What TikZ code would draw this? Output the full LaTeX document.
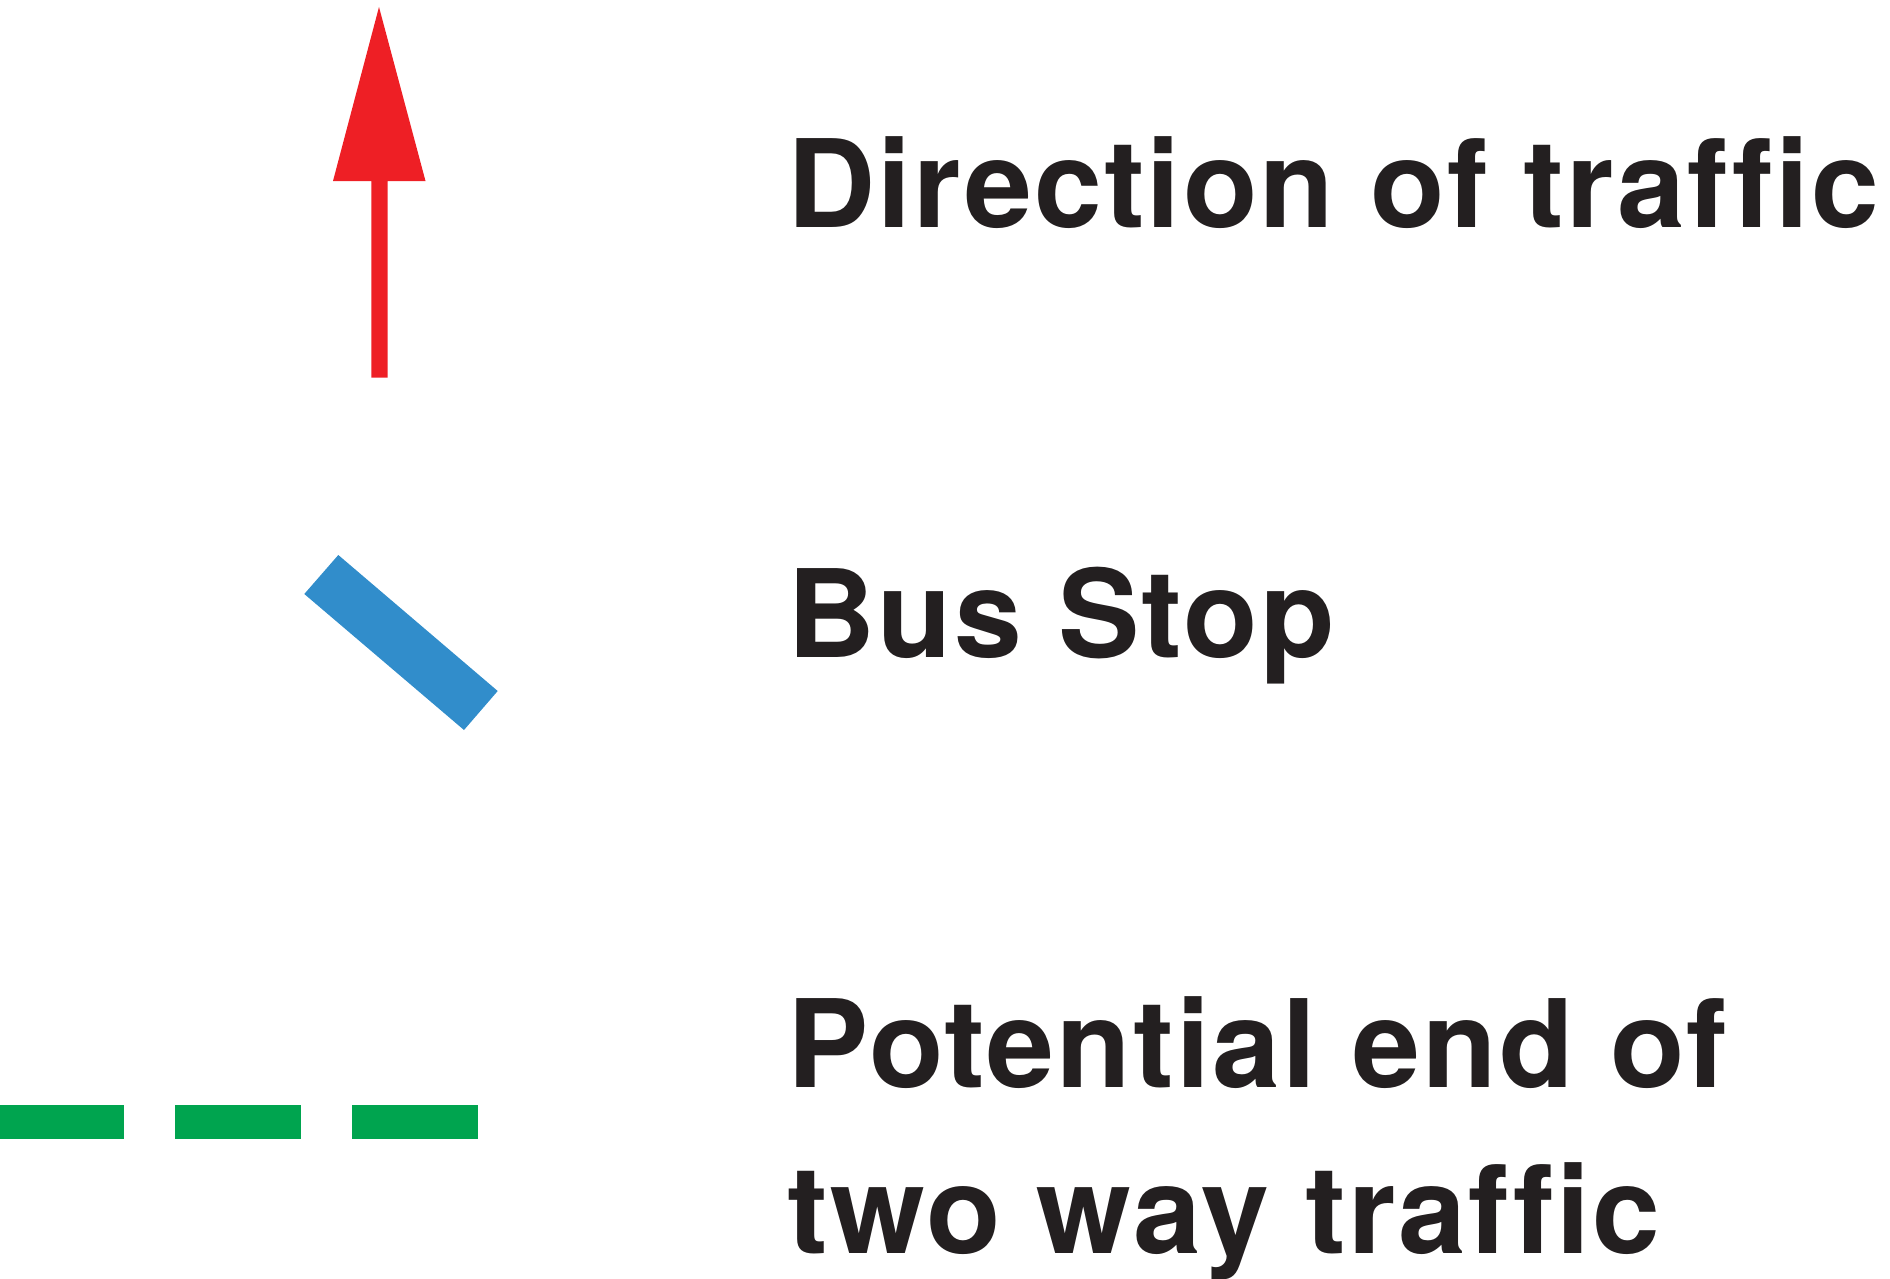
\documentclass[tikz,border=0pt]{standalone}
\usepackage{fontspec}
\setmainfont[Ligatures=NoCommon]{TeX Gyre Heros}
\newfontfamily\legendfont[Ligatures=NoCommon,LetterSpace=1.8]{TeX Gyre Heros}
\definecolor{arrowred}{HTML}{EE1F25}
\definecolor{stopblue}{HTML}{318DCB}
\definecolor{endgreen}{HTML}{00A44F}
\definecolor{labeltext}{HTML}{231F20}
\begin{document}
\begin{tikzpicture}[x=0.5pt,y=-0.5pt,
  legendtext/.style={anchor=base west, inner sep=0pt, text=labeltext,
    font=\legendfont\fontsize{61}{70}\selectfont\bfseries}]
\useasboundingbox (0,0) rectangle (1890,1279);
% direction arrow
\fill[arrowred] (379,7) -- (425.5,181) -- (387.5,181) -- (387.5,377.5)
  -- (371.3,377.5) -- (371.3,181) -- (333,181) -- cycle;
% bus stop bar
\fill[stopblue] (338.3,555) -- (497.7,691) -- (464,730) -- (304.3,594) -- cycle;
% green dashes
\foreach \a/\b in {0/124.2, 174.8/300.6, 352/478}
  \fill[endgreen] (\a,1105) rectangle (\b,1138.5);
% labels
\node[legendtext] (dir) at (787,227.8) {Direction of traffic};
\node[legendtext] (bus) at (787,657) {Bus Stop};
\node[legendtext] (pot1) at (787,1087.3) {Potential end of};
\node[legendtext] (pot2) at (787,1253.6) {two way traffic};
\end{tikzpicture}
\end{document}
